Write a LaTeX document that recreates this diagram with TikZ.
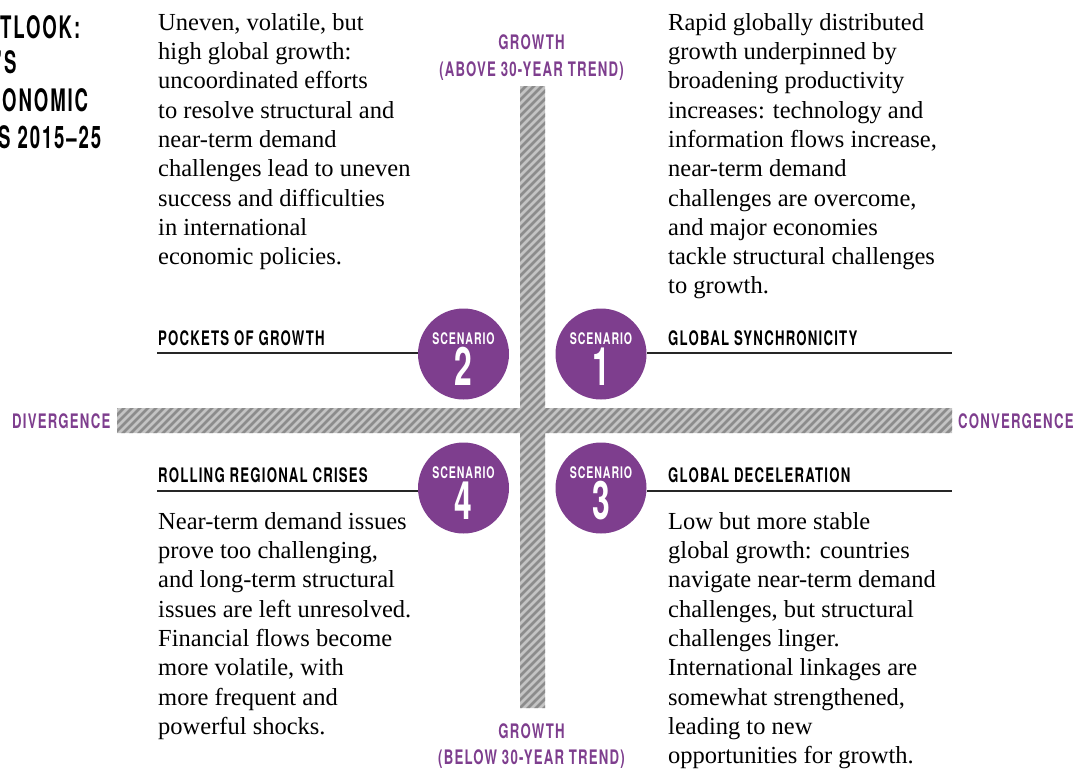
\documentclass[tikz,border=0pt]{standalone}
\usepackage{fontspec}
\usepackage{xcolor}
\setmainfont{Liberation Serif}
\newfontfamily\headfont[FakeStretch=0.66,LetterSpace=6]{TeX Gyre Heros}
\newfontfamily\numfont[FakeStretch=0.6]{TeX Gyre Heros}
\newfontfamily\titlefont[FakeStretch=0.6,LetterSpace=6]{TeX Gyre Heros}
\definecolor{scenpurple}{HTML}{7E3E8E}
\definecolor{hatchlight}{HTML}{C4C4C4}
\definecolor{hatchdark}{HTML}{8C8C8C}

\begin{document}
\begin{tikzpicture}[x=1pt,y=-1pt,
		every node/.style={inner sep=0pt},
		blurb/.style={anchor=north west,align=left,font=\fontsize{24.5}{29.3}\selectfont},
		heading/.style={anchor=base west,font=\headfont\bfseries\fontsize{20}{20}\selectfont},
		axislabel/.style={anchor=base,text=scenpurple,font=\headfont\bfseries\fontsize{20}{20}\selectfont},
		scen/.style={circle,fill=scenpurple,minimum size=91pt},
		scenword/.style={anchor=base,text=white,font=\headfont\bfseries\fontsize{16}{16}\selectfont},
		scennum/.style={anchor=base,text=white,font=\numfont\bfseries\fontsize{53}{53}\selectfont},
		rule/.style={draw=black!85,line width=1.2pt},
		title/.style={anchor=base west,font=\titlefont\bfseries\fontsize{31}{31}\selectfont}]
		\useasboundingbox (0,0) rectangle (1086,768);
		% hatched cross
		\begin{scope}
			\clip (520,86) rectangle (545,708) (117,408) rectangle (952,433);
			\fill [hatchlight] (0,0) rectangle (1086,768);
			\foreach \s in {-780,-772,...,1090}
				\draw [hatchdark,line width=2.8pt] (\s,768) -- ++(768,-768);
		\end{scope}
		% title (cut at the left edge)
		\node [title] (t1) at (0,39) {TLOOK:};
		\node [title] (t2) at (-3,74) {’S};
		\node [title] (t3) at (2,111) {ONOMIC};
		\node [title] (t4) at (-2,148) {S 2015–25};
		% axes
		\node [axislabel] (up1) at (531.5,50) {GROWTH};
		\node [axislabel] (up2) at (531.5,77) {(ABOVE 30-YEAR TREND)};
		\node [axislabel] (dn1) at (531.5,738) {GROWTH};
		\node [axislabel] (dn2) at (531.5,764) {(BELOW 30-YEAR TREND)};
		\node [axislabel,anchor=base west] (div) at (12,428) {DIVERGENCE};
		\node [axislabel,anchor=base west] (conv) at (958,428) {CONVERGENCE};
		% scenarios
		\node [scen] (s2) at (463.5,354) {};
		\node [scen] (s1) at (601,354) {};
		\node [scen] (s4) at (463.5,488) {};
		\node [scen] (s3) at (601,488) {};
		\foreach \n in {1,2,3,4} {
			\node [scenword] (w\n) at ([yshift=10pt]s\n.center) {SCENARIO};
			\node [scennum] (n\n) at ([yshift=-31pt]s\n.center) {\n};
		}
		\node [heading] (h2) at (158,345) {POCKETS OF GROWTH};
		\node [heading] (h1) at (668,345) {GLOBAL SYNCHRONICITY};
		\node [heading] (h4) at (158,482) {ROLLING REGIONAL CRISES};
		\node [heading] (h3) at (668,482) {GLOBAL DECELERATION};
		\coordinate (r2) at (157,353);
		\coordinate (r1) at (952,353);
		\coordinate (r4) at (157,491);
		\coordinate (r3) at (952,491);
		\draw [rule] (r2) -- (r2 -| s2.west);
		\draw [rule] (s1.east |- r1) -- (r1);
		\draw [rule] (r4) -- (r4 -| s4.west);
		\draw [rule] (s3.east |- r3) -- (r3);
		% descriptions
		\node [blurb] (b2) at (158,13) {Uneven, volatile, but\\high global growth:\\uncoordinated efforts\\to resolve structural and\\near-term demand\\challenges lead to uneven\\success and difficulties\\in international\\economic policies.};
		\node [blurb] (b1) at (668,13) {Rapid globally distributed\\growth underpinned by\\broadening productivity\\increases: technology and\\information flows increase,\\near-term demand\\challenges are overcome,\\and major economies\\tackle structural challenges\\to growth.};
		\node [blurb] (b4) at (158,512) {Near-term demand issues\\prove too challenging,\\and long-term structural\\issues are left unresolved.\\Financial flows become\\more volatile, with\\more frequent and\\powerful shocks.};
		\node [blurb] (b3) at (668,512) {Low but more stable\\global growth: countries\\navigate near-term demand\\challenges, but structural\\challenges linger.\\International linkages are\\somewhat strengthened,\\leading to new\\opportunities for growth.};
\end{tikzpicture}
\end{document}
